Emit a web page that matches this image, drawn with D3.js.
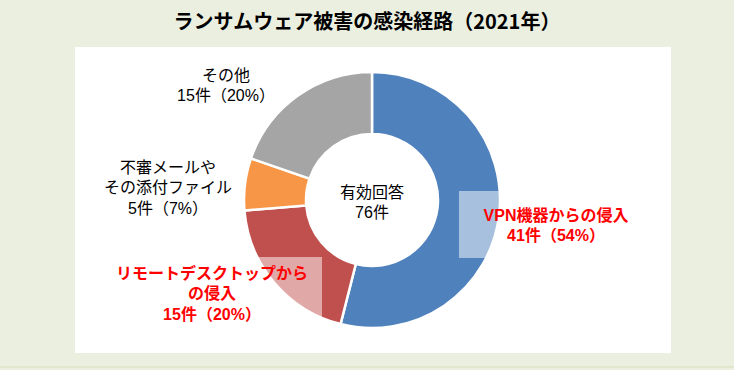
<!DOCTYPE html>
<html>
<head>
<meta charset="utf-8">
<script src="https://cdn.jsdelivr.net/npm/d3@7"></script>
<style>
  body { margin: 0; background: #ebefdf; }
  svg { display: block; }
  text { font-family: "Noto Sans CJK JP", "Noto Sans", sans-serif; }
  text.lbl { font-family: "Liberation Sans", "Noto Sans CJK JP", sans-serif; }
</style>
</head>
<body>
<div id="chart"></div>
<script>
var title = "ランサムウェア被害の感染経路（2021年）"
var categories = ["VPN機器からの侵入", "リモートデスクトップからの侵入", "不審メールやその添付ファイル", "その他"]
var counts = [41, 15, 5, 15]
var percents = [54, 20, 7, 20]
var colors = ["#4f81bd", "#c0504d", "#f79646", "#a5a5a5"]
var centerLabel = ["有効回答", "76件"]

function init() {
    var w = 734
    var h = 370
    var cx = 372
    var cy = 200
    var outerR = 128
    var innerR = 66

    var svg = d3.select("#chart")
                .append("svg")
                .attr("width", w)
                .attr("height", h)

    svg.append("rect")
        .attr("width", w)
        .attr("height", h)
        .attr("fill", "#ebefdf")

    svg.append("rect")
        .attr("x", 0)
        .attr("y", 366)
        .attr("width", w)
        .attr("height", 2)
        .attr("fill", "#dfe7cc")

    svg.append("rect")
        .attr("x", 75)
        .attr("y", 47)
        .attr("width", 596)
        .attr("height", 306)
        .attr("fill", "#ffffff")

    svg.append("text")
        .text(title)
        .attr("x", 367)
        .attr("y", 29)
        .attr("text-anchor", "middle")
        .style("font-size", "20px")
        .style("font-weight", "bold")
        .attr("fill", "#000")

    var pie = d3.pie().sort(null).value(d => d)
    var arc = d3.arc().innerRadius(innerR).outerRadius(outerR)
    var g = svg.append("g").attr("transform", `translate(${cx},${cy})`)

    g.selectAll("path")
        .data(pie(counts))
        .enter()
        .append("path")
        .attr("d", arc)
        .attr("fill", (d, i) => colors[i])
        .attr("stroke", "#fff")
        .attr("stroke-width", 2.5)

    // label boxes (translucent white like the Excel data labels)
    var labels = [
        { lines: ["VPN機器からの侵入", counts[0] + "件（" + percents[0] + "%）"], x: 556, y: 215, box: [459, 191, 194, 67], red: true },
        { lines: ["リモートデスクトップから", "の侵入", counts[1] + "件（" + percents[1] + "%）"], x: 212, y: 273, box: [102, 257, 220, 72], red: true },
        { lines: ["不審メールや", "その添付ファイル", counts[2] + "件（" + percents[2] + "%）"], x: 168, y: 167, red: false },
        { lines: ["その他", counts[3] + "件（" + percents[3] + "%）"], x: 226, y: 75, red: false }
    ]

    labels.filter(d => d.box).forEach(d => {
        svg.append("rect")
            .attr("x", d.box[0])
            .attr("y", d.box[1])
            .attr("width", d.box[2])
            .attr("height", d.box[3])
            .attr("fill", "#fff")
            .attr("fill-opacity", 0.5)
    })

    labels.forEach(d => {
        d.lines.forEach((line, i) => {
            svg.append("text")
                .attr("class", "lbl")
                .attr("x", d.x)
                .attr("y", d.y + i * 20.5)
                .attr("dy", "0.35em")
                .attr("text-anchor", "middle")
                .style("font-size", "16px")
                .style("font-weight", d.red ? "bold" : "normal")
                .attr("fill", d.red ? "#ff0000" : "#000")
                .text(line)
        })
    })

    centerLabel.forEach((line, i) => {
        svg.append("text")
            .attr("class", "lbl")
            .attr("x", cx)
            .attr("y", 192 + i * 20)
            .attr("dy", "0.35em")
            .attr("text-anchor", "middle")
            .style("font-size", "16px")
            .attr("fill", "#000")
            .text(line)
    })
}

window.onload = init;
</script>
</body>
</html>
